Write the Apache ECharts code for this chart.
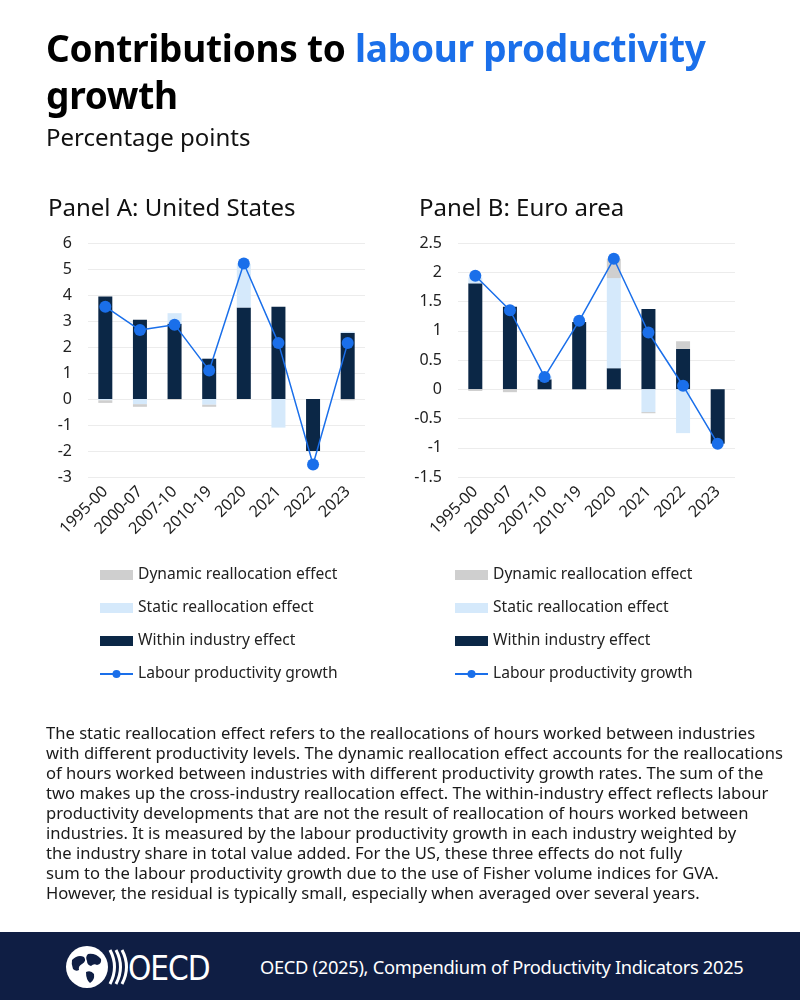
<!DOCTYPE html>
<html>
<head>
<meta charset="utf-8">
<script src="https://cdn.jsdelivr.net/npm/echarts@6/dist/echarts.min.js"></script>
<style>
  html, body { margin:0; padding:0; background:#fff; }
  body { width:800px; height:1000px; position:relative; overflow:hidden; font-family:'Noto Sans', sans-serif; color:#111; }
  #chart { position:absolute; left:0; top:0; width:800px; height:1000px; }
  .t { position:absolute; white-space:nowrap; }
  #title { left:46px; top:24px; font-weight:700; font-size:37px; line-height:47px; color:#000; letter-spacing:-0.25px; }
  #title span { color:#1a6fea; }
  #sub { left:46px; top:122px; font-size:24px; line-height:30px; color:#111; }
  .panel { top:192px; font-size:24px; line-height:30px; color:#111; }
  #note { left:46px; top:723px; font-size:16.6px; line-height:20px; color:#1a1a1a; }
  #footer { position:absolute; left:0; top:932px; width:800px; height:68px; background:#0f1e44; }
  #foottext { position:absolute; left:260px; top:954px; font-size:18.3px; line-height:26px; color:#fff; letter-spacing:-0.3px; }
  #logo { position:absolute; left:64px; top:944px; }
</style>
</head>
<body>
<div id="chart"></div>
<div class="t" id="title">Contributions to <span>labour productivity</span><br>growth</div>
<div class="t" id="sub">Percentage points</div>
<div class="t panel" style="left:48px">Panel A: United States</div>
<div class="t panel" style="left:419px">Panel B: Euro area</div>
<div class="t" id="note">The static reallocation effect refers to the reallocations of hours worked between industries<br>with different productivity levels. The dynamic reallocation effect accounts for the reallocations<br>of hours worked between industries with different productivity growth rates. The sum of the<br>two makes up the cross-industry reallocation effect. The within-industry effect reflects labour<br>productivity developments that are not the result of reallocation of hours worked between<br>industries. It is measured by the labour productivity growth in each industry weighted by<br>the industry share in total value added. For the US, these three effects do not fully<br>sum to the labour productivity growth due to the use of Fisher volume indices for GVA.<br>However, the residual is typically small, especially when averaged over several years.</div>
<div id="footer"></div>
<svg id="logo" width="150" height="46" viewBox="0 0 150 46">
  <circle cx="23" cy="23" r="21" fill="#fff"/>
  <path d="M8 16 q6 -6 12 -3 q3 4 -2 7 q-4 2 -3 6 q-3 2 -6 -1 q-2 -5 -1 -9z" fill="#0f1e44"/>
  <path d="M24 10 q8 -1 13 5 q1 5 -4 6 q-3 -2 -6 1 q-4 -1 -4 -5 q-2 -4 1 -7z" fill="#0f1e44"/>
  <path d="M22 28 q5 -2 8 2 q1 6 -4 9 q-4 -3 -4 -11z" fill="#0f1e44"/>
  <path d="M46 6 q9 17 0 34" stroke="#fff" stroke-width="3" fill="none"/>
  <path d="M52 6 q9 17 0 34" stroke="#fff" stroke-width="3" fill="none"/>
  <path d="M58 6 q9 17 0 34" stroke="#fff" stroke-width="3" fill="none"/>
  <text x="64" y="36" fill="#fff" font-family="'Liberation Sans Narrow','DejaVu Sans Condensed',sans-serif" font-size="33" letter-spacing="-1">OECD</text>
</svg>
<div class="t" id="foottext">OECD (2025), Compendium of Productivity Indicators 2025</div>
<script>
const categories = ['1995-00','2000-07','2007-10','2010-19','2020','2021','2022','2023'];

const usWithin  = [3.94, 3.05, 2.89, 1.55, 3.52, 3.55, -2.00, 2.54];
const usStatic  = [-0.05, -0.20, 0.41, -0.22, 1.68, -1.10, 0.00, 0.05];
const usDynamic = [-0.10, -0.10, -0.03, -0.08, 0.00, 0.00, 0.00, -0.05];
const usGrowth  = [3.55, 2.65, 2.86, 1.10, 5.21, 2.15, -2.52, 2.15];

const euWithin  = [1.81, 1.41, 0.17, 1.15, 0.36, 1.37, 0.69, -0.93];
const euStatic  = [0.10, 0.00, 0.05, 0.00, 1.54, -0.39, -0.75, 0.00];
const euDynamic = [-0.03, -0.05, 0.00, 0.00, 0.33, -0.02, 0.13, 0.00];
const euGrowth  = [1.94, 1.35, 0.21, 1.17, 2.23, 0.97, 0.06, -0.93];

const usTicks = {min:-3, max:6, interval:1};
const euTicks = {min:-1.5, max:2.5, interval:0.5};

const names = ['Dynamic reallocation effect','Static reallocation effect','Within industry effect','Labour productivity growth'];
const cWithin = '#0b2746', cStatic = '#d5e9fb', cDynamic = '#cfcfcf', cLine = '#1a6fea';
const font = 'Noto Sans';

const chart = echarts.init(document.getElementById('chart'), null, {renderer:'canvas'});

function xAxis(gi){
  return {
    type:'category', gridIndex:gi, data:categories,
    axisLine:{show:false}, axisTick:{show:false},
    axisLabel:{rotate:45, interval:0, margin:12, fontSize:16, color:'#222', fontFamily:font}
  };
}
function yAxis(gi, t){
  return {
    type:'value', gridIndex:gi, min:t.min, max:t.max, interval:t.interval,
    axisLine:{show:false}, axisTick:{show:false},
    splitLine:{lineStyle:{color:'#ececec', width:1}},
    axisLabel:{fontSize:16, color:'#222', fontFamily:font, margin:16}
  };
}
function bars(gi, stack, within, stat, dyn, growth){
  return [
    {name:names[2], type:'bar', xAxisIndex:gi, yAxisIndex:gi, stack:stack, data:within, barWidth:14, itemStyle:{color:cWithin}},
    {name:names[1], type:'bar', xAxisIndex:gi, yAxisIndex:gi, stack:stack, data:stat, barWidth:14, itemStyle:{color:cStatic}},
    {name:names[0], type:'bar', xAxisIndex:gi, yAxisIndex:gi, stack:stack, data:dyn, barWidth:14, itemStyle:{color:cDynamic}},
    {name:names[3], type:'line', xAxisIndex:gi, yAxisIndex:gi, data:growth, symbol:'circle', symbolSize:12,
      lineStyle:{color:cLine, width:1.5}, itemStyle:{color:cLine}, z:5}
  ];
}
function legend(left){
  return {
    left:left, top:562, orient:'vertical', itemGap:17, itemWidth:33, itemHeight:10,
    data:names.map(n => ({name:n, icon: n === names[3] ? undefined : 'rect'})),
    textStyle:{fontSize:15.6, color:'#222', fontFamily:font},
    selectedMode:false
  };
}

chart.setOption({
  animation:false,
  grid:[
    {left:88, top:243, width:277, height:234},
    {left:458, top:243, width:277, height:234}
  ],
  xAxis:[xAxis(0), xAxis(1)],
  yAxis:[yAxis(0, usTicks), yAxis(1, euTicks)],
  legend:[legend(94), legend(449)],
  series:[
    ...bars(0, 'us', usWithin, usStatic, usDynamic, usGrowth),
    ...bars(1, 'eu', euWithin, euStatic, euDynamic, euGrowth)
  ]
});
</script>
</body>
</html>
